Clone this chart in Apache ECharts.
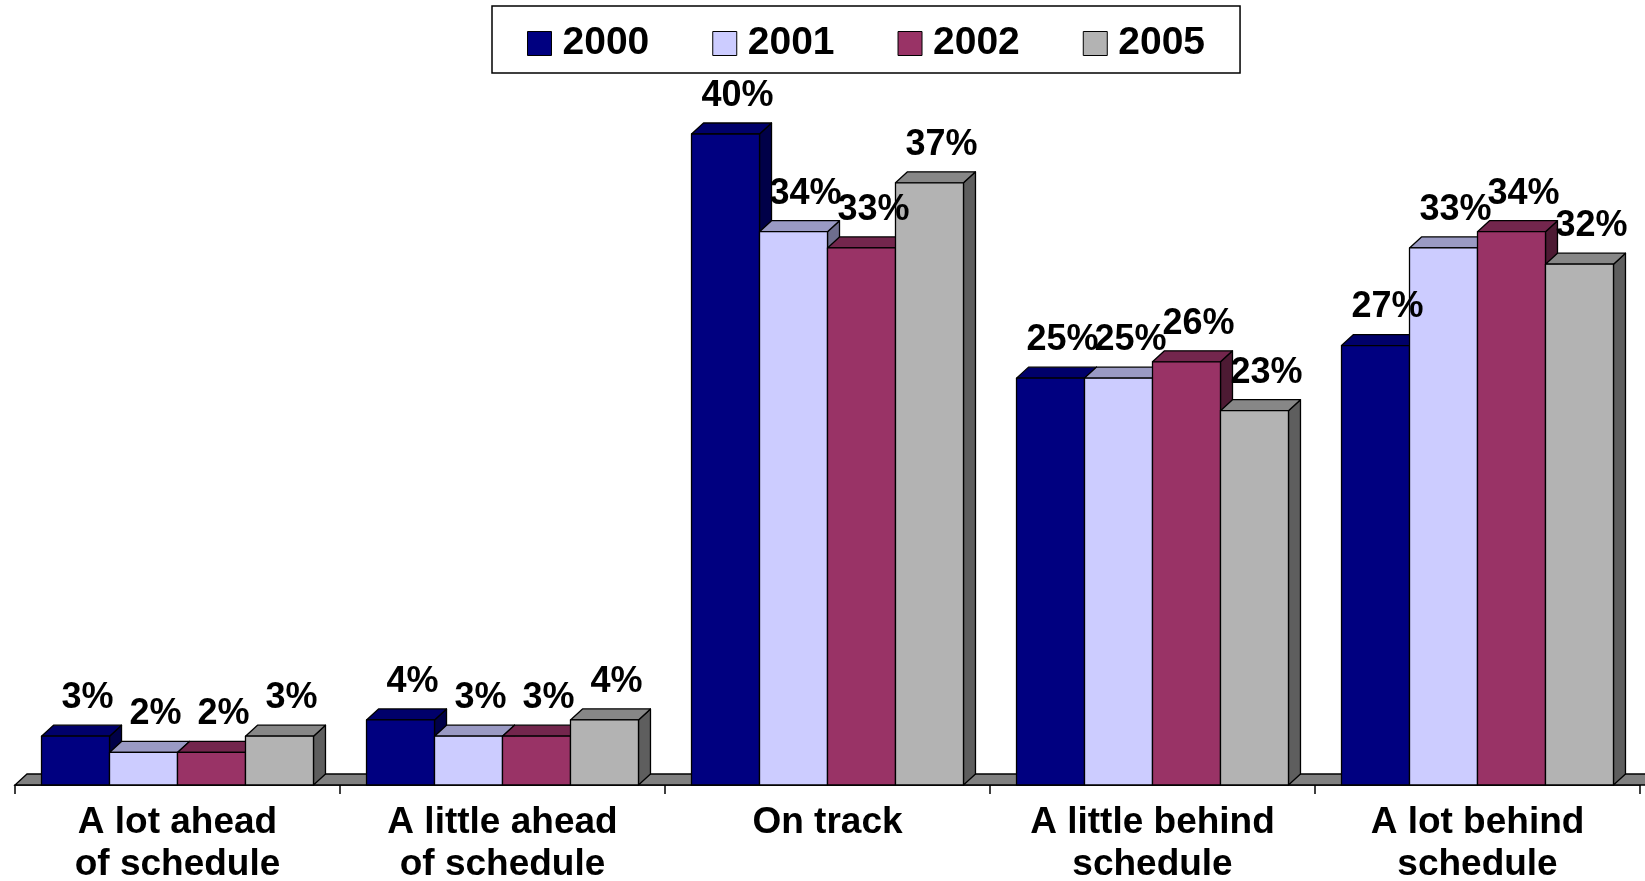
<!DOCTYPE html>
<html>
<head>
<meta charset="utf-8">
<script src="https://cdn.jsdelivr.net/npm/echarts@6/dist/echarts.min.js"></script>
<style>
  html, body { margin: 0; padding: 0; background: #ffffff; }
  #chart { width: 1645px; height: 881px; }
</style>
</head>
<body>
<div id="chart"></div>
<script>
// Survey categories along the x axis
const categories = [
  'A lot ahead\nof schedule',
  'A little ahead\nof schedule',
  'On track',
  'A little behind\nschedule',
  'A lot behind\nschedule'
];

// Series names (survey years)
const years = ['2000', '2001', '2002', '2005'];

// Percent of respondents per category, one array per year
const pct2000 = [3, 4, 40, 25, 27];
const pct2001 = [2, 3, 34, 25, 33];
const pct2002 = [2, 3, 33, 26, 34];
const pct2005 = [3, 4, 37, 23, 32];

const seriesValues = [pct2000, pct2001, pct2002, pct2005];

// Face shading for the extruded bars: front, top, side
const palette = [
  { front: '#000080', top: '#00006a', side: '#000048' },
  { front: '#ccccff', top: '#9a9ac4', side: '#6e6e8e' },
  { front: '#993366', top: '#73264d', side: '#4d1a33' },
  { front: '#b3b3b3', top: '#878787', side: '#5e5e5e' }
];

const FONT = '"Liberation Sans", Arial, sans-serif';
const DEPTH_X = 12;       // horizontal extrusion of the 3D look
const DEPTH_Y = 11;       // vertical extrusion of the 3D look
const BAR_RATIO = 0.2092; // bar width as a share of one category band
const EDGE = '#000000';

function barRenderer(seriesIdx) {
  return function (params, api) {
    const cat = api.value(0);
    const val = api.value(1);
    const base = api.coord([cat, 0]);
    const topPt = api.coord([cat, val]);
    const band = api.size([1, 0])[0];
    const bw = band * BAR_RATIO;
    const x0 = base[0] - 2 * bw + seriesIdx * bw;
    const x1 = x0 + bw;
    const yb = base[1];
    const yt = topPt[1];
    const c = palette[seriesIdx];
    const z = seriesIdx * 10;
    const stroke = { stroke: EDGE, lineWidth: 1.3, lineJoin: 'round' };
    return {
      type: 'group',
      children: [
        {
          type: 'polygon',
          z2: z + 1,
          shape: { points: [[x1, yt], [x1 + DEPTH_X, yt - DEPTH_Y], [x1 + DEPTH_X, yb - DEPTH_Y], [x1, yb]] },
          style: Object.assign({ fill: c.side }, stroke)
        },
        {
          type: 'polygon',
          z2: z + 2,
          shape: { points: [[x0, yt], [x0 + DEPTH_X, yt - DEPTH_Y], [x1 + DEPTH_X, yt - DEPTH_Y], [x1, yt]] },
          style: Object.assign({ fill: c.top }, stroke)
        },
        {
          type: 'rect',
          z2: z + 3,
          shape: { x: x0, y: yt, width: bw, height: yb - yt },
          style: Object.assign({ fill: c.front }, stroke)
        },
        {
          type: 'text',
          z2: 200,
          style: {
            text: val + '%',
            x: (x0 + x1) / 2 + 12,
            y: yt - 20,
            align: 'center',
            verticalAlign: 'bottom',
            fill: '#000000',
            fontFamily: FONT,
            fontWeight: 'bold',
            fontSize: 36
          }
        }
      ]
    };
  };
}

// Grey floor slab running along the category axis
function floorRenderer(params, api) {
  const cs = params.coordSys;
  const yb = api.coord([0, 0])[1];
  const xl = cs.x;
  const xr = cs.x + cs.width + 40;
  return {
    type: 'polygon',
    z2: -10,
    shape: { points: [[xl, yb], [xl + DEPTH_X, yb - DEPTH_Y], [xr + DEPTH_X, yb - DEPTH_Y], [xr, yb]] },
    style: { fill: '#808080', stroke: EDGE, lineWidth: 1.3 }
  };
}

const series = [{
  type: 'custom',
  name: 'floor',
  silent: true,
  data: [[0, 0]],
  encode: { x: 0, y: 1 },
  renderItem: floorRenderer
}];

years.forEach(function (yr, s) {
  series.push({
    type: 'custom',
    name: yr,
    data: seriesValues[s].map(function (v, i) { return [i, v]; }),
    encode: { x: 0, y: 1 },
    itemStyle: { color: palette[s].front, borderColor: EDGE, borderWidth: 1 },
    renderItem: barRenderer(s)
  });
});

const chart = echarts.init(document.getElementById('chart'), null, { renderer: 'canvas' });
chart.setOption({
  animation: false,
  backgroundColor: '#ffffff',
  legend: {
    data: years,
    left: 492,
    top: 6,
    padding: [18, 35, 10, 35],
    itemGap: 63,
    itemWidth: 24,
    itemHeight: 24,
    icon: 'rect',
    borderColor: '#000000',
    borderWidth: 1.5,
    backgroundColor: '#ffffff',
    selectedMode: false,
    itemStyle: { borderColor: EDGE, borderWidth: 1 },
    textStyle: {
      color: '#000000',
      fontFamily: FONT,
      fontWeight: 'bold',
      fontSize: 39,
      padding: [0, 0, 0, 6]
    }
  },
  grid: {
    left: 15, right: 5, top: 134, bottom: 96,
    containLabel: false,
    outerBoundsMode: 'none'
  },
  xAxis: {
    type: 'category',
    data: categories,
    boundaryGap: true,
    axisLine: { show: true, lineStyle: { color: '#000000', width: 1.5 } },
    axisTick: { show: true, length: 9, lineStyle: { color: '#000000', width: 1.5 } },
    axisLabel: {
      interval: 0,
      margin: 17,
      color: '#000000',
      fontFamily: FONT,
      fontWeight: 'bold',
      fontSize: 37,
      lineHeight: 42,
      align: 'center'
    },
    splitLine: { show: false }
  },
  yAxis: {
    type: 'value',
    min: 0,
    max: 40,
    show: false
  },
  series: series
});
</script>
</body>
</html>
